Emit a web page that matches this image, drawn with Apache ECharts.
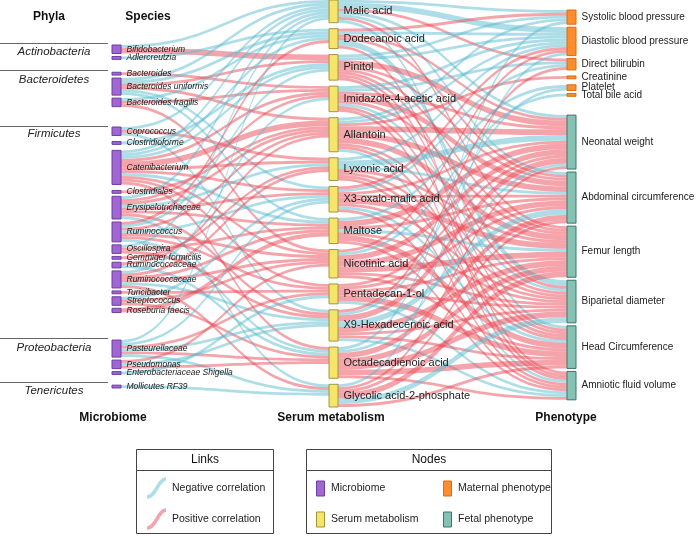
<!DOCTYPE html>
<html><head><meta charset="utf-8">
<script src="https://cdn.jsdelivr.net/npm/echarts@6/dist/echarts.min.js"></script>
<style>html,body{margin:0;padding:0;background:#fff}#c{width:696px;height:536px}</style>
</head><body><div id="c"></div>
<script>
// ---------------- DATA ----------------
const phyla = ['Actinobacteria', 'Bacteroidetes', 'Firmicutes', 'Proteobacteria', 'Tenericutes'];
const species = ['Bifidobacterium', 'Adlercreutzia', 'Bacteroides', 'Bacteroides uniformis', 'Bacteroides fragilis',
  'Coprococcus', 'Clostridioforme', 'Catenibacterium', 'Clostridiales', 'Erysipelotrichaceae', 'Ruminococcus',
  'Oscillospira', 'Gemmiger formicilis', 'Ruminococcaceae#1', 'Ruminococcaceae#2', 'Turicibacter', 'Streptococcus',
  'Roseburia faecis', 'Pasteurellaceae', 'Pseudomonas', 'Enterobacteriaceae Shigella', 'Mollicutes RF39'];
const metabolites = ['Malic acid', 'Dodecanoic acid', 'Pinitol', 'Imidazole-4-acetic acid', 'Allantoin', 'Lyxonic acid',
  'X3-oxalo-malic acid', 'Maltose', 'Nicotinic acid', 'Pentadecan-1-ol', 'X9-Hexadecenoic acid',
  'Octadecadienoic acid', 'Glycolic acid-2-phosphate'];
const maternalPhenotypes = ['Systolic blood pressure', 'Diastolic blood pressure', 'Direct bilirubin', 'Creatinine', 'Platelet', 'Total bile acid'];
const fetalPhenotypes = ['Neonatal weight', 'Abdominal circumference', 'Femur length', 'Biparietal diameter', 'Head Circumference', 'Amniotic fluid volume'];
const columnTitles = ['Microbiome', 'Serum metabolism', 'Phenotype'];
const legendLinks = ['Negative correlation', 'Positive correlation'];
const legendNodes = ['Microbiome', 'Maternal phenotype', 'Serum metabolism', 'Fetal phenotype'];

// [source, target, weight, sign]  sign -1 = negative, 1 = positive correlation
const microbeMetabLinks = [
  ['Bifidobacterium', 'Malic acid', 1, -1], ['Bifidobacterium', 'Pinitol', 2, 1],
  ['Adlercreutzia', 'Dodecanoic acid', 1, -1],
  ['Bacteroides', 'Imidazole-4-acetic acid', 1, 1],
  ['Bacteroides uniformis', 'Malic acid', 1, -1], ['Bacteroides uniformis', 'Dodecanoic acid', 1, -1],
  ['Bacteroides uniformis', 'Pinitol', 1, 1], ['Bacteroides uniformis', 'Allantoin', 1, 1],
  ['Bacteroides uniformis', 'X3-oxalo-malic acid', 1, -1], ['Bacteroides uniformis', 'Maltose', 1, -1],
  ['Bacteroides fragilis', 'Dodecanoic acid', 1, -1], ['Bacteroides fragilis', 'Imidazole-4-acetic acid', 1, 1],
  ['Bacteroides fragilis', 'Nicotinic acid', 1, 1],
  ['Coprococcus', 'Malic acid', 1, -1], ['Coprococcus', 'Lyxonic acid', 1, 1], ['Coprococcus', 'X9-Hexadecenoic acid', 1, -1],
  ['Clostridioforme', 'Pinitol', 1, -1],
  ['Catenibacterium', 'Malic acid', 1, -1], ['Catenibacterium', 'Dodecanoic acid', 1, -1],
  ['Catenibacterium', 'Pinitol', 1, -1], ['Catenibacterium', 'Imidazole-4-acetic acid', 1, 1],
  ['Catenibacterium', 'Allantoin', 2, 1], ['Catenibacterium', 'Lyxonic acid', 1, 1],
  ['Catenibacterium', 'X3-oxalo-malic acid', 1, 1], ['Catenibacterium', 'Maltose', 1, -1],
  ['Catenibacterium', 'Nicotinic acid', 1, 1], ['Catenibacterium', 'Pentadecan-1-ol', 1, 1],
  ['Catenibacterium', 'Octadecadienoic acid', 1, 1],
  ['Clostridiales', 'Allantoin', 1, 1],
  ['Erysipelotrichaceae', 'Malic acid', 1, -1], ['Erysipelotrichaceae', 'Imidazole-4-acetic acid', 1, 1],
  ['Erysipelotrichaceae', 'Allantoin', 1, 1], ['Erysipelotrichaceae', 'Lyxonic acid', 1, -1],
  ['Erysipelotrichaceae', 'X3-oxalo-malic acid', 1, 1], ['Erysipelotrichaceae', 'Maltose', 1, 1],
  ['Erysipelotrichaceae', 'X9-Hexadecenoic acid', 1, 1], ['Erysipelotrichaceae', 'Glycolic acid-2-phosphate', 1, -1],
  ['Ruminococcus', 'Dodecanoic acid', 1, 1], ['Ruminococcus', 'Pinitol', 1, -1], ['Ruminococcus', 'Allantoin', 1, 1],
  ['Ruminococcus', 'X3-oxalo-malic acid', 1, -1], ['Ruminococcus', 'Nicotinic acid', 1, 1],
  ['Ruminococcus', 'Pentadecan-1-ol', 1, 1], ['Ruminococcus', 'Octadecadienoic acid', 1, -1],
  ['Oscillospira', 'Malic acid', 1, -1], ['Oscillospira', 'Maltose', 1, 1], ['Oscillospira', 'X9-Hexadecenoic acid', 1, 1],
  ['Gemmiger formicilis', 'Lyxonic acid', 1, 1],
  ['Ruminococcaceae#1', 'Allantoin', 1, 1], ['Ruminococcaceae#1', 'Octadecadienoic acid', 1, -1],
  ['Ruminococcaceae#2', 'Imidazole-4-acetic acid', 1, -1], ['Ruminococcaceae#2', 'Lyxonic acid', 1, 1],
  ['Ruminococcaceae#2', 'Maltose', 1, 1], ['Ruminococcaceae#2', 'Nicotinic acid', 1, 1],
  ['Ruminococcaceae#2', 'X9-Hexadecenoic acid', 1, -1], ['Ruminococcaceae#2', 'Glycolic acid-2-phosphate', 1, 1],
  ['Turicibacter', 'Pentadecan-1-ol', 1, 1],
  ['Streptococcus', 'X3-oxalo-malic acid', 1, -1], ['Streptococcus', 'Nicotinic acid', 1, 1],
  ['Streptococcus', 'Octadecadienoic acid', 1, 1],
  ['Roseburia faecis', 'Maltose', 1.5, 1],
  ['Pasteurellaceae', 'Malic acid', 1, -1], ['Pasteurellaceae', 'X3-oxalo-malic acid', 1, -1],
  ['Pasteurellaceae', 'Pentadecan-1-ol', 1, 1], ['Pasteurellaceae', 'X9-Hexadecenoic acid', 1, -1],
  ['Pasteurellaceae', 'Octadecadienoic acid', 1, 1], ['Pasteurellaceae', 'Glycolic acid-2-phosphate', 1, -1],
  ['Pseudomonas', 'Nicotinic acid', 1, 1], ['Pseudomonas', 'X9-Hexadecenoic acid', 1, -1],
  ['Pseudomonas', 'Octadecadienoic acid', 1, 1],
  ['Enterobacteriaceae Shigella', 'Pentadecan-1-ol', 1, -1],
  ['Mollicutes RF39', 'Glycolic acid-2-phosphate', 1, -1]
];

const metabPhenoLinks = [
  ['Malic acid', 'Systolic blood pressure', 1, -1], ['Malic acid', 'Diastolic blood pressure', 2, -1],
  ['Malic acid', 'Direct bilirubin', 1, 1], ['Malic acid', 'Neonatal weight', 1, -1],
  ['Malic acid', 'Abdominal circumference', 1, -1], ['Malic acid', 'Femur length', 1, 1],
  ['Malic acid', 'Head Circumference', 1, -1],
  ['Dodecanoic acid', 'Systolic blood pressure', 1, 1], ['Dodecanoic acid', 'Diastolic blood pressure', 1, -1],
  ['Dodecanoic acid', 'Neonatal weight', 1, 1], ['Dodecanoic acid', 'Abdominal circumference', 1, 1],
  ['Dodecanoic acid', 'Biparietal diameter', 2, -1], ['Dodecanoic acid', 'Amniotic fluid volume', 1, 1],
  ['Pinitol', 'Systolic blood pressure', 1, -1], ['Pinitol', 'Diastolic blood pressure', 1, -1],
  ['Pinitol', 'Neonatal weight', 2, 1], ['Pinitol', 'Abdominal circumference', 1, 1],
  ['Pinitol', 'Femur length', 1, 1], ['Pinitol', 'Biparietal diameter', 1, 1],
  ['Pinitol', 'Head Circumference', 1, 1], ['Pinitol', 'Amniotic fluid volume', 1, 1],
  ['Imidazole-4-acetic acid', 'Diastolic blood pressure', 1, -1], ['Imidazole-4-acetic acid', 'Direct bilirubin', 1, -1],
  ['Imidazole-4-acetic acid', 'Neonatal weight', 1, 1], ['Imidazole-4-acetic acid', 'Abdominal circumference', 2, 1],
  ['Imidazole-4-acetic acid', 'Femur length', 1, 1], ['Imidazole-4-acetic acid', 'Biparietal diameter', 1, -1],
  ['Imidazole-4-acetic acid', 'Head Circumference', 1, 1], ['Imidazole-4-acetic acid', 'Amniotic fluid volume', 1, 1],
  ['Allantoin', 'Systolic blood pressure', 1, -1], ['Allantoin', 'Diastolic blood pressure', 1, -1],
  ['Allantoin', 'Creatinine', 1, 1], ['Allantoin', 'Neonatal weight', 2, 1],
  ['Allantoin', 'Abdominal circumference', 2, 1], ['Allantoin', 'Femur length', 2, 1],
  ['Allantoin', 'Biparietal diameter', 1, 1], ['Allantoin', 'Head Circumference', 1, 1],
  ['Allantoin', 'Amniotic fluid volume', 1, -1],
  ['Lyxonic acid', 'Diastolic blood pressure', 1, -1], ['Lyxonic acid', 'Neonatal weight', 2, -1],
  ['Lyxonic acid', 'Abdominal circumference', 1, -1], ['Lyxonic acid', 'Femur length', 1, 1],
  ['Lyxonic acid', 'Biparietal diameter', 1, 1], ['Lyxonic acid', 'Head Circumference', 1, 1],
  ['Lyxonic acid', 'Amniotic fluid volume', 1, 1],
  ['X3-oxalo-malic acid', 'Diastolic blood pressure', 1, 1], ['X3-oxalo-malic acid', 'Direct bilirubin', 1, -1],
  ['X3-oxalo-malic acid', 'Neonatal weight', 1, 1], ['X3-oxalo-malic acid', 'Abdominal circumference', 1, 1],
  ['X3-oxalo-malic acid', 'Femur length', 2, 1], ['X3-oxalo-malic acid', 'Biparietal diameter', 1, 1],
  ['X3-oxalo-malic acid', 'Head Circumference', 1, -1], ['X3-oxalo-malic acid', 'Amniotic fluid volume', 1, 1],
  ['Maltose', 'Platelet', 1, -1], ['Maltose', 'Neonatal weight', 2, 1], ['Maltose', 'Abdominal circumference', 1, 1],
  ['Maltose', 'Femur length', 1, -1], ['Maltose', 'Biparietal diameter', 1, 1],
  ['Maltose', 'Head Circumference', 2, 1], ['Maltose', 'Amniotic fluid volume', 1, 1],
  ['Nicotinic acid', 'Diastolic blood pressure', 1, 1], ['Nicotinic acid', 'Total bile acid', 1, -1],
  ['Nicotinic acid', 'Neonatal weight', 2, 1], ['Nicotinic acid', 'Abdominal circumference', 2, 1],
  ['Nicotinic acid', 'Femur length', 2, 1], ['Nicotinic acid', 'Biparietal diameter', 1, 1],
  ['Nicotinic acid', 'Head Circumference', 1, 1],
  ['Pentadecan-1-ol', 'Neonatal weight', 1, 1], ['Pentadecan-1-ol', 'Abdominal circumference', 1, 1],
  ['Pentadecan-1-ol', 'Femur length', 1, 1], ['Pentadecan-1-ol', 'Biparietal diameter', 1, 1],
  ['Pentadecan-1-ol', 'Head Circumference', 2, 1], ['Pentadecan-1-ol', 'Amniotic fluid volume', 1, -1],
  ['X9-Hexadecenoic acid', 'Direct bilirubin', 1, 1], ['X9-Hexadecenoic acid', 'Platelet', 1, -1],
  ['X9-Hexadecenoic acid', 'Neonatal weight', 2, 1], ['X9-Hexadecenoic acid', 'Abdominal circumference', 2, -1],
  ['X9-Hexadecenoic acid', 'Femur length', 2, 1], ['X9-Hexadecenoic acid', 'Biparietal diameter', 1, 1],
  ['X9-Hexadecenoic acid', 'Head Circumference', 1, 1], ['X9-Hexadecenoic acid', 'Amniotic fluid volume', 1, -1],
  ['Octadecadienoic acid', 'Systolic blood pressure', 1, -1], ['Octadecadienoic acid', 'Neonatal weight', 1, -1],
  ['Octadecadienoic acid', 'Abdominal circumference', 2, 1], ['Octadecadienoic acid', 'Femur length', 2, 1],
  ['Octadecadienoic acid', 'Biparietal diameter', 2, 1], ['Octadecadienoic acid', 'Head Circumference', 2, 1],
  ['Octadecadienoic acid', 'Amniotic fluid volume', 1, 1],
  ['Glycolic acid-2-phosphate', 'Diastolic blood pressure', 1, -1], ['Glycolic acid-2-phosphate', 'Neonatal weight', 1, 1],
  ['Glycolic acid-2-phosphate', 'Abdominal circumference', 1, 1], ['Glycolic acid-2-phosphate', 'Femur length', 2, 1],
  ['Glycolic acid-2-phosphate', 'Biparietal diameter', 2, -1], ['Glycolic acid-2-phosphate', 'Head Circumference', 1, 1]
];

// ---------------- LAYOUT (spacing only, in link-weight units) ----------------
const speciesGapBefore = { 'Bifidobacterium': 14.79, 'Bacteroides': 2.43, 'Coprococcus': 5.07, 'Clostridioforme': 0,
  'Catenibacterium': 0, 'Clostridiales': 0, 'Pasteurellaceae': 7.57, 'Mollicutes RF39': 1.66 };
const phenoGapBefore = { 'Systolic blood pressure': 2.47, 'Creatinine': 0, 'Platelet': 0, 'Neonatal weight': 4.51 };
const MID_DEPTH = 0.954;

// ---------------- STYLES ----------------
const FONT = "'Liberation Sans', Arial, Helvetica, sans-serif";
const NEG = '#5bbcd0', POS = '#ea4a55';
const STY = {
  micro: { color: '#a066d3', borderColor: '#6d3fa0', borderWidth: 1 },
  serum: { color: '#f6e56b', borderColor: '#a3953a', borderWidth: 1 },
  maternal: { color: '#ff8c2e', borderColor: '#dd6d10', borderWidth: 1 },
  fetal: { color: '#84c2b4', borderColor: '#3e7568', borderWidth: 1 }
};

const nodes = [];
let spacerId = 0;
function spacer(depth, v) {
  nodes.push({ name: '__sp' + (spacerId++), value: v, depth: depth,
    itemStyle: { color: 'rgba(0,0,0,0)', borderWidth: 0 }, label: { show: false }, tooltip: { show: false } });
}
function addNode(name, depth, sty, labelStyle) {
  nodes.push({ name: name, depth: depth, itemStyle: sty, label: labelStyle });
}
const speciesLabel = { fontSize: 8.5, fontStyle: 'italic', color: '#222', fontFamily: FONT };
const metabLabel = { fontSize: 11, color: '#222', fontFamily: FONT };
const phenoLabel = { fontSize: 10, color: '#222', fontFamily: FONT };

species.forEach(function (s) {
  if (speciesGapBefore[s] !== undefined) spacer(0, speciesGapBefore[s]);
  addNode(s, 0, STY.micro, speciesLabel);
});
metabolites.forEach(function (m, i) {
  if (i > 0) spacer(MID_DEPTH, 0);
  addNode(m, MID_DEPTH, STY.serum, metabLabel);
});
maternalPhenotypes.concat(fetalPhenotypes).forEach(function (p) {
  if (phenoGapBefore[p] !== undefined) spacer(2, phenoGapBefore[p]);
  addNode(p, 2, maternalPhenotypes.indexOf(p) >= 0 ? STY.maternal : STY.fetal, phenoLabel);
});

const links = microbeMetabLinks.concat(metabPhenoLinks).map(function (l) {
  return { source: l[0], target: l[1], value: l[2], lineStyle: { color: l[3] < 0 ? NEG : POS } };
});

// ---------------- DECORATION ----------------
const g = [];
function txt(x, y, s, opt) {
  g.push({ type: 'text', x: x, y: y, silent: true, style: Object.assign({ text: s, fill: '#111', fontFamily: FONT,
    fontSize: 11, align: 'left', verticalAlign: 'middle' }, opt || {}) });
}
function line(x1, y1, x2, y2, c) {
  g.push({ type: 'line', silent: true, shape: { x1: x1, y1: y1, x2: x2, y2: y2 }, style: { stroke: c || '#555', lineWidth: 1 } });
}
txt(49, 17, 'Phyla', { fontWeight: 'bold', fontSize: 12, align: 'center' });
txt(148, 17, 'Species', { fontWeight: 'bold', fontSize: 12, align: 'center' });
const phylaLineY = [43.5, 70.5, 126.5, 338.5, 382.5];
const phylaTextY = [52, 80, 134, 348, 391];
phyla.forEach(function (p, i) {
  line(0, phylaLineY[i], 108, phylaLineY[i], '#666');
  txt(54, phylaTextY[i], p, { fontStyle: 'italic', fontSize: 11.5, align: 'center', fill: '#222' });
});
const titleX = [113, 331, 566];
columnTitles.forEach(function (t, i) { txt(titleX[i], 418, t, { fontWeight: 'bold', fontSize: 12, align: 'center' }); });

// legend boxes
g.push({ type: 'rect', silent: true, shape: { x: 136.5, y: 449.5, width: 137, height: 84 }, style: { fill: '#fff', stroke: '#444', lineWidth: 1 } });
line(136.5, 470.5, 273.5, 470.5, '#444');
txt(205, 460, 'Links', { align: 'center', fontSize: 12 });
g.push({ type: 'rect', silent: true, shape: { x: 306.5, y: 449.5, width: 245, height: 84 }, style: { fill: '#fff', stroke: '#444', lineWidth: 1 } });
line(306.5, 470.5, 551.5, 470.5, '#444');
txt(429, 460, 'Nodes', { align: 'center', fontSize: 12 });
const legColors = [NEG, POS];
legendLinks.forEach(function (t, i) {
  const y = 488 + i * 31;
  g.push({ type: 'bezierCurve', silent: true, shape: { x1: 147, y1: y + 9, cpx1: 156, cpy1: y + 9, cpx2: 158, cpy2: y - 9, x2: 166, y2: y - 9 },
    style: { stroke: legColors[i], opacity: 0.5, lineWidth: 3.5, fill: null } });
  txt(172, y, t, { fontSize: 10.5, fill: '#222' });
});
const legSty = [STY.micro, STY.maternal, STY.serum, STY.fetal];
legendNodes.forEach(function (t, i) {
  const col = i % 2, row = Math.floor(i / 2);
  const x = col === 0 ? 316 : 443, y = 488.5 + row * 31;
  g.push({ type: 'rect', silent: true, shape: { x: x + 0.5, y: y - 7.5, width: 8, height: 15 },
    style: { fill: legSty[i].color, stroke: legSty[i].borderColor, lineWidth: 1 } });
  txt(x + 15, y, t, { fontSize: 10.5, fill: '#222' });
});

// ---------------- CHART ----------------
const chart = echarts.init(document.getElementById('c'), null, { renderer: 'canvas' });
chart.setOption({
  animation: false,
  backgroundColor: '#fff',
  series: [{
    type: 'sankey',
    left: 112, right: 120, top: 0, bottom: 129,
    nodeWidth: 9, nodeGap: 3, layoutIterations: 0, nodeAlign: 'left',
    draggable: false,
    emphasis: { disabled: true },
    label: { position: 'right', distance: 5, formatter: function (p) { return p.name.split('#')[0]; } },
    lineStyle: { curveness: 0.5, opacity: 0.5 },
    data: nodes,
    links: links
  }],
  graphic: { elements: g }
});
</script></body></html>
